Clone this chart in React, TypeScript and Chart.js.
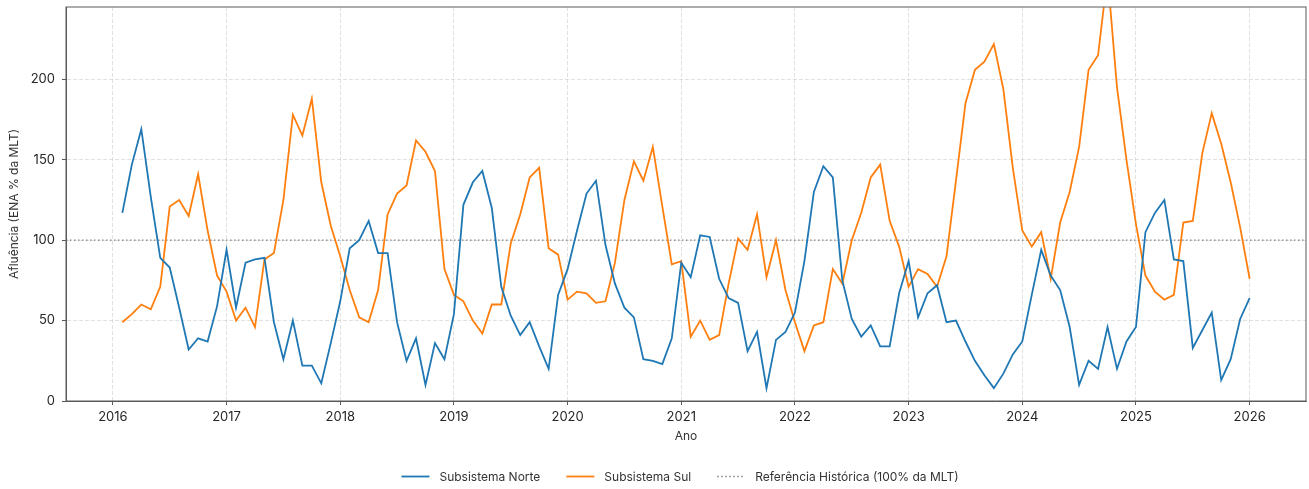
import { useEffect, useRef } from "react";
import { Chart, registerables } from "chart.js";

Chart.register(...registerables);

// Monthly inflow (ENA, % of long-term mean), Jan 2016 .. Dec 2025, month-end points
const START_YEAR = 2016;

const norte = [
  117, 147, 169, 127, 89, 83, 58, 32, 39, 37, 59, 94,
  58, 86, 88, 89, 49, 26, 50, 22, 22, 11, 36, 62,
  95, 100, 112, 92, 92, 49, 25, 39, 10, 36, 26, 54,
  122, 136, 143, 120, 71, 53, 41, 49, 34, 20, 66, 82,
  106, 129, 137, 97, 73, 58, 52, 26, 25, 23, 39, 86,
  77, 103, 102, 76, 64, 61, 31, 43, 8, 38, 43, 55,
  87, 130, 146, 139, 75, 51, 40, 47, 34, 34, 67, 87,
  52, 67, 72, 49, 50, 37, 25, 16, 8, 17, 29, 37,
  66, 94, 78, 69, 46, 10, 25, 20, 46, 20, 37, 46,
  105, 117, 125, 88, 87, 33, 44, 55, 13, 26, 51, 64,
];

const sul = [
  49, 54, 60, 57, 71, 121, 125, 115, 141, 106, 78, 68,
  50, 58, 46, 88, 92, 125, 178, 165, 188, 136, 109, 90,
  69, 52, 49, 69, 116, 129, 134, 162, 155, 143, 82, 66,
  62, 50, 42, 60, 60, 98, 116, 139, 145, 95, 91, 63,
  68, 67, 61, 62, 86, 125, 149, 137, 158, 121, 85, 87,
  40, 50, 38, 41, 73, 101, 94, 116, 77, 100, 69, 49,
  31, 47, 49, 82, 73, 100, 117, 139, 147, 112, 96, 71,
  82, 79, 71, 90, 137, 185, 206, 211, 222, 194, 145, 106,
  96, 105, 76, 111, 130, 158, 206, 215, 265, 195, 150, 110,
  78, 68, 63, 66, 111, 112, 154, 179, 160, 136, 108, 76,
];

const yearTicks = [2016, 2017, 2018, 2019, 2020, 2021, 2022, 2023, 2024, 2025, 2026];
const valueTicks = [0, 50, 100, 150, 200];
const referenceLevel = 100;
const Y_MAX = 245;

const seriesNames = ["Subsistema Norte", "Subsistema Sul", "Referência Histórica (100% da MLT)"];
const seriesColors = ["#1f77b4", "#ff7f0e", "rgba(110,110,110,0.85)"];

const FONT = "Inter, 'DejaVu Sans', sans-serif";
const SPINE = "#5a5a5a";

const monthPos = (i: number) => START_YEAR + (i + 1) / 12;

const W = 1309;
const H = 489;
const PLOT_TOP = 7;

// Draws the full box around the plot and the legend row underneath
const framePlugin = {
  id: "frameAndLegend",
  afterDraw(chart: any) {
    const { ctx, chartArea } = chart;
    ctx.save();
    ctx.strokeStyle = SPINE;
    ctx.lineWidth = 1;
    ctx.strokeRect(chartArea.left, chartArea.top, chartArea.right - chartArea.left, chartArea.bottom - chartArea.top);

    ctx.font = `12px ${FONT}`;
    ctx.textBaseline = "middle";
    const sample = 28;
    const gapText = 10;
    const gapItem = 26;
    const widths = seriesNames.map((t) => ctx.measureText(t).width);
    const total = widths.reduce((a, w) => a + sample + gapText + w, 0) + gapItem * (seriesNames.length - 1);
    let x = 680 - total / 2;
    const y = 476.5;
    seriesNames.forEach((name, i) => {
      ctx.beginPath();
      ctx.strokeStyle = seriesColors[i];
      ctx.lineWidth = i === 2 ? 1.3 : 1.8;
      ctx.setLineDash(i === 2 ? [1.5, 2.5] : []);
      ctx.moveTo(x, y);
      ctx.lineTo(x + sample, y);
      ctx.stroke();
      ctx.setLineDash([]);
      ctx.fillStyle = "#333";
      ctx.fillText(name, x + sample + gapText, y + 0.5);
      x += sample + gapText + widths[i] + gapItem;
    });
    ctx.restore();
  },
};

export default function App() {
  const ref = useRef<HTMLCanvasElement | null>(null);

  useEffect(() => {
    if (!ref.current) return;
    const first = monthPos(0);
    const last = monthPos(norte.length - 1);
    const pad = (last - first) * 0.05;
    const xMin = first - pad;
    const xMax = last + pad;

    const chart = new Chart(ref.current, {
      type: "line",
      data: {
        datasets: [
          {
            label: seriesNames[0],
            data: norte.map((v, i) => ({ x: monthPos(i), y: v })),
            borderColor: seriesColors[0],
            borderWidth: 1.8,
            pointRadius: 0,
            tension: 0,
            clip: 0,
          },
          {
            label: seriesNames[1],
            data: sul.map((v, i) => ({ x: monthPos(i), y: v })),
            borderColor: seriesColors[1],
            borderWidth: 1.8,
            pointRadius: 0,
            tension: 0,
            clip: 0,
          },
          {
            label: seriesNames[2],
            data: [
              { x: xMin, y: referenceLevel },
              { x: xMax, y: referenceLevel },
            ],
            borderColor: seriesColors[2],
            borderWidth: 1.3,
            borderDash: [1.5, 2.5],
            pointRadius: 0,
            clip: 0,
          },
        ],
      },
      options: {
        responsive: false,
        animation: false,
        events: [],
        layout: { padding: { left: 0, top: 0, right: 3, bottom: 0 } },
        plugins: {
          legend: { display: false },
          tooltip: { enabled: false },
        },
        scales: {
          x: {
            type: "linear",
            min: xMin,
            max: xMax,
            afterBuildTicks: (scale: any) => {
              scale.ticks = yearTicks.map((v) => ({ value: v }));
            },
            afterFit: (scale: any) => {
              scale.height = 88;
            },
            ticks: {
              autoSkip: false,
              maxRotation: 0,
              padding: 4,
              color: "#262626",
              font: { family: FONT, size: 13 },
              callback: (v: any) => String(v),
            },
            grid: {
              color: "rgba(180,180,180,0.5)",
              lineWidth: 0.8,
              tickColor: SPINE,
              tickLength: 4,
              tickWidth: 1,
            },
            border: { color: SPINE, width: 1, dash: [4, 2] },
            title: {
              display: true,
              text: "Ano",
              color: "#333",
              font: { family: FONT, size: 12 },
              padding: { top: 0, bottom: 45 },
            },
          },
          y: {
            type: "linear",
            min: 0,
            max: Y_MAX,
            afterBuildTicks: (scale: any) => {
              scale.ticks = valueTicks.map((v) => ({ value: v }));
            },
            afterFit: (scale: any) => {
              scale.width = 66;
              scale.paddingTop = PLOT_TOP;
            },
            ticks: {
              padding: 7,
              color: "#262626",
              font: { family: FONT, size: 13 },
              callback: (v: any) => String(v),
            },
            grid: {
              color: "rgba(180,180,180,0.5)",
              lineWidth: 0.8,
              tickColor: SPINE,
              tickLength: 4,
              tickWidth: 1,
            },
            border: { color: SPINE, width: 1, dash: [4, 2] },
            title: {
              display: true,
              text: "Afluência (ENA % da MLT)",
              color: "#333",
              font: { family: FONT, size: 12 },
              padding: { top: 7, bottom: 0 },
            },
          },
        },
      },
      plugins: [framePlugin],
    });
    return () => chart.destroy();
  }, []);

  return (
    <div style={{ position: "absolute", left: 0, top: 0, width: W, height: H, background: "#fff" }}>
      <canvas ref={ref} width={W} height={H} />
    </div>
  );
}
